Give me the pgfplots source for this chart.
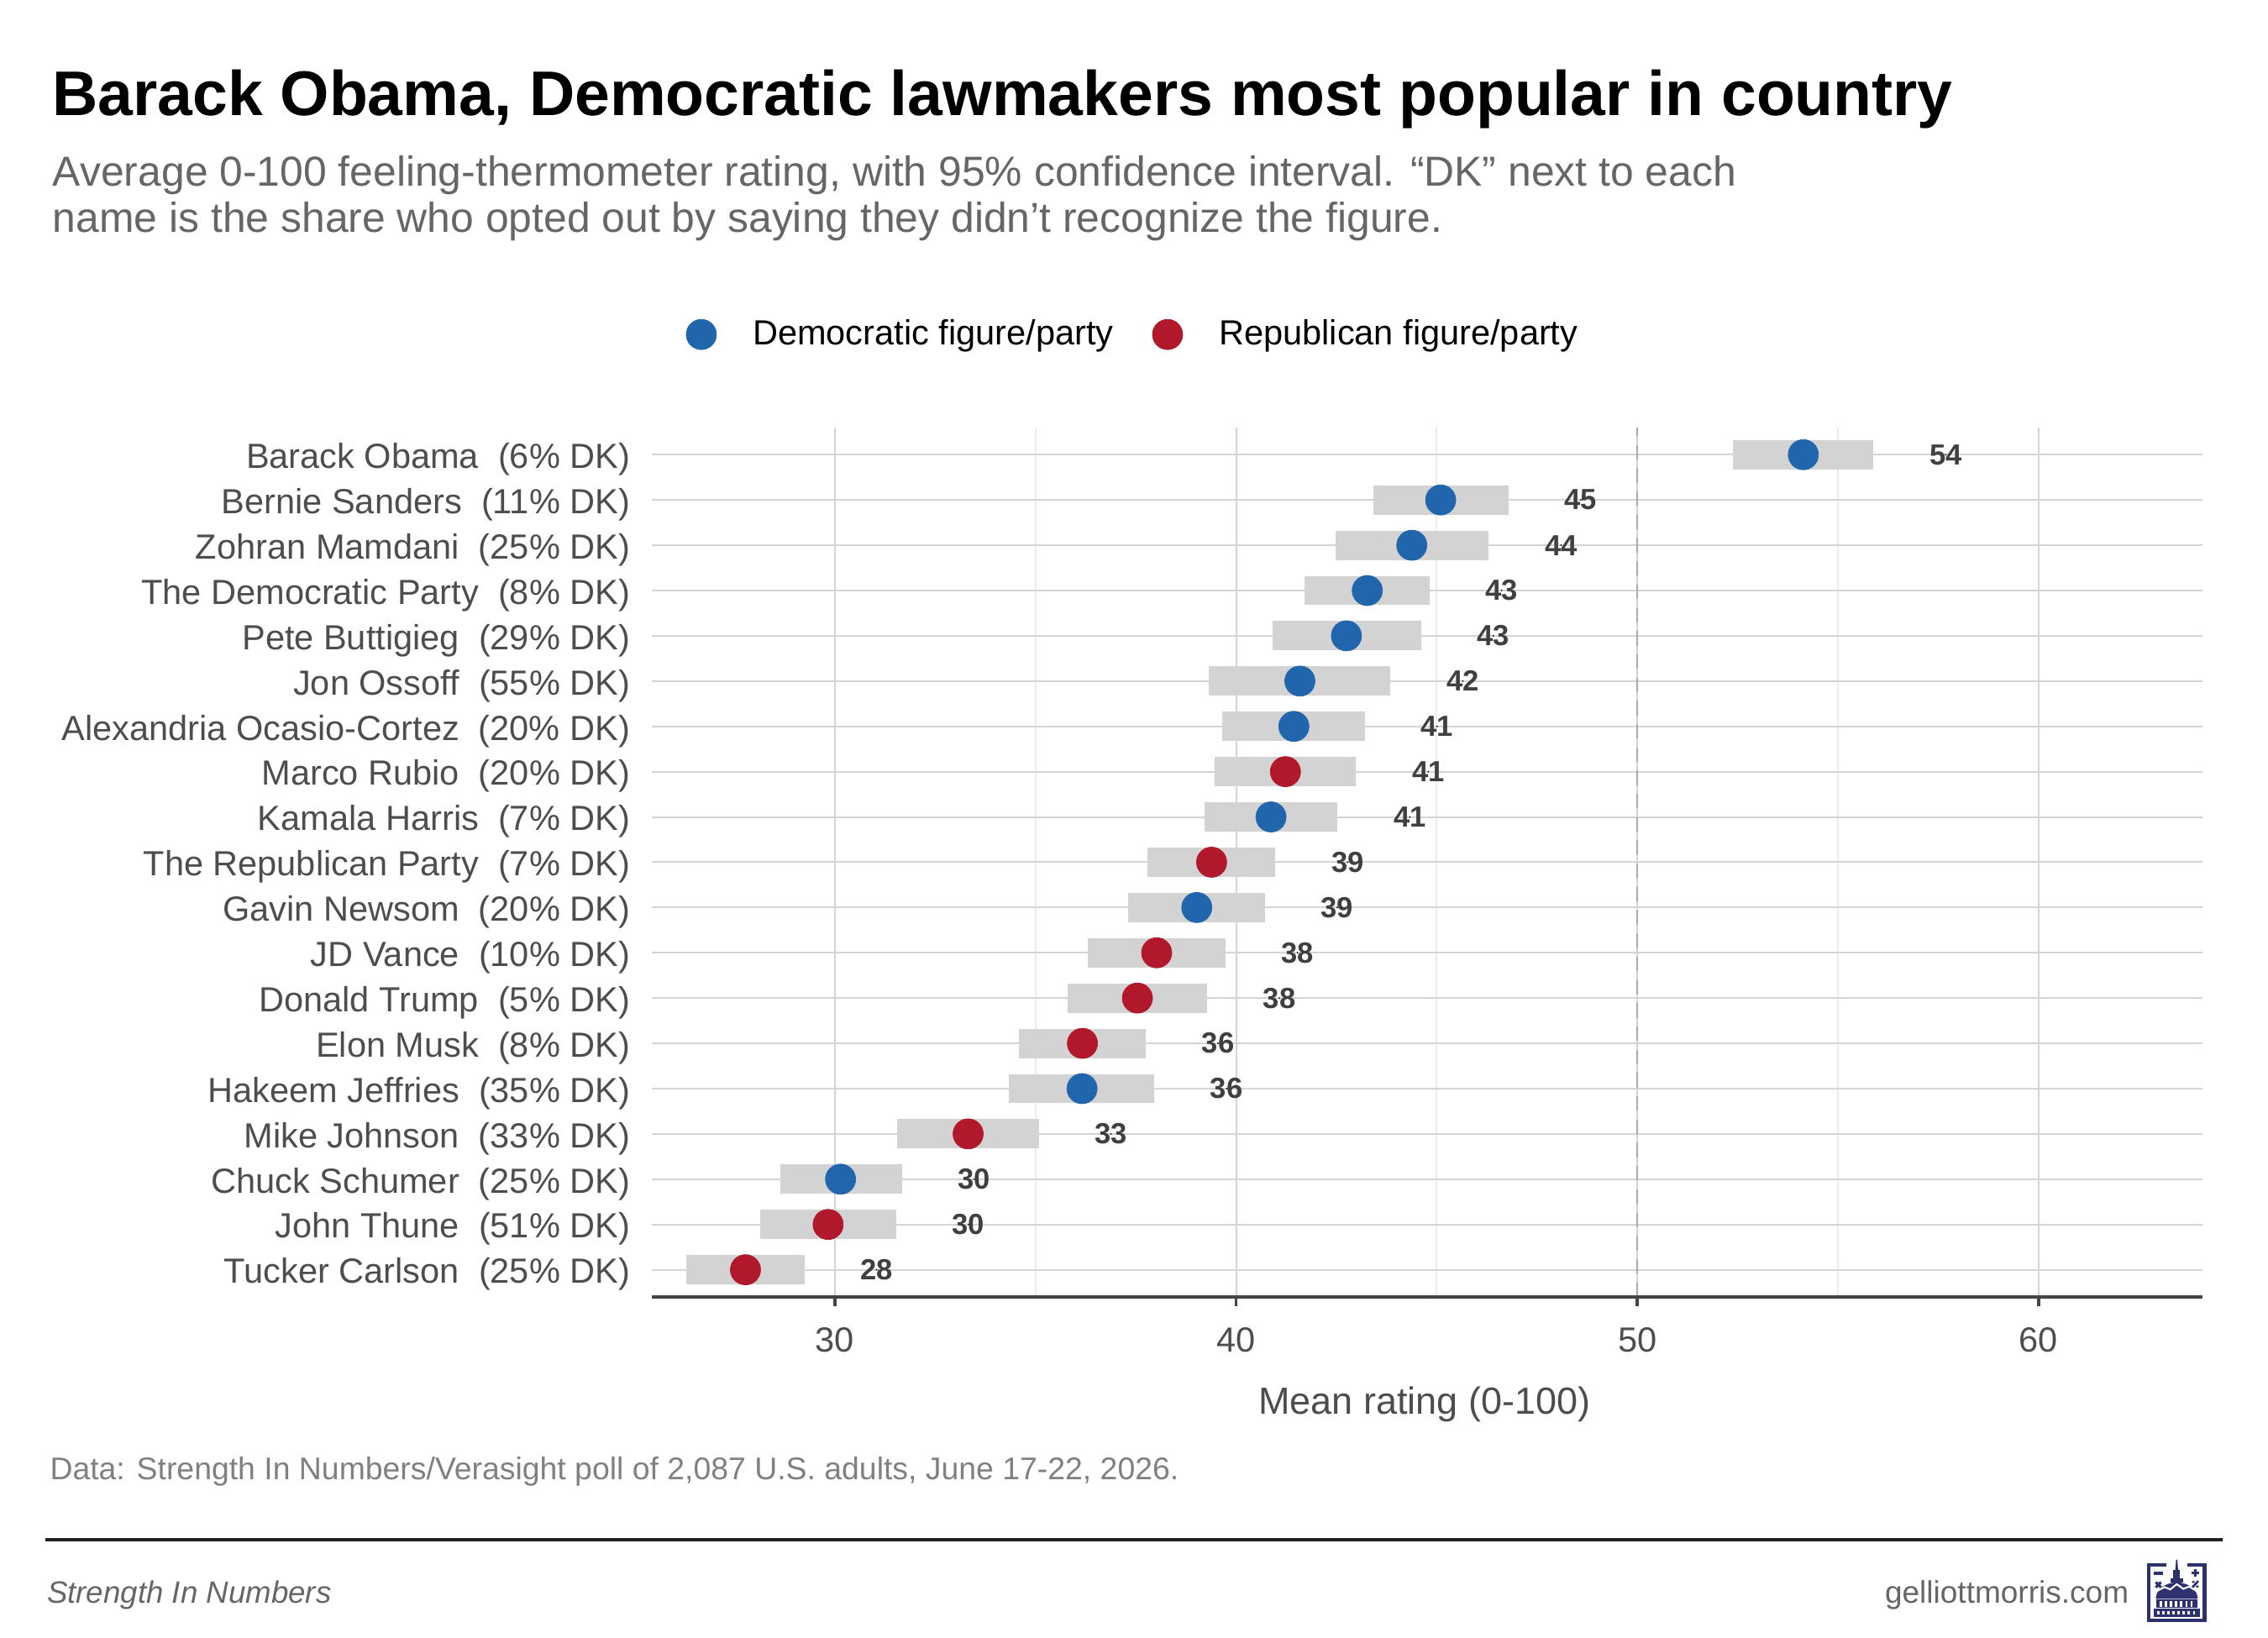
\documentclass[border=0pt]{standalone}
\usepackage{fontspec}
\setmainfont{Liberation Sans}
\usepackage{pgfplots}
\pgfplotsset{compat=1.18}
\usepackage{pgfplotstable}

\definecolor{demblue}{HTML}{2166AC}
\definecolor{repred}{HTML}{B2182B}
\definecolor{barcol}{HTML}{D3D3D3}
\definecolor{gridmaj}{HTML}{D4D4D4}
\definecolor{gridmin}{HTML}{EBEBEB}
\definecolor{axiscol}{HTML}{444444}
\definecolor{ticktext}{HTML}{4D4D4D}
\definecolor{subcol}{HTML}{666666}
\definecolor{capcol}{HTML}{808080}
\definecolor{labcol}{HTML}{3F3F3F}
\definecolor{dashcol}{HTML}{AAAAAA}
\definecolor{rulecol}{HTML}{222222}
\definecolor{logocol}{HTML}{2E3170}

% y: row (0 = bottom), mean, CI low, CI high, rounded label
\pgfplotstableread{
y mean lo hi lab
18 54.14 52.39 55.89 54
17 45.10 43.42 46.79 45
16 44.38 42.48 46.30 44
15 43.27 41.70 44.82 43
14 42.75 40.92 44.61 43
13 41.59 39.31 43.85 42
12 41.44 39.66 43.21 41
10 40.87 39.22 42.53 41
8 39.02 37.30 40.72 39
4 36.16 34.34 37.96 36
2 30.14 28.64 31.67 30
}\dem

\pgfplotstableread{
y mean lo hi lab
11 41.23 39.47 42.99 41
9 39.39 37.79 40.98 39
7 38.02 36.30 39.73 38
6 37.54 35.80 39.28 38
5 36.17 34.59 37.75 36
3 33.32 31.56 35.08 33
1 29.83 28.13 31.53 30
0 27.77 26.30 29.24 28
}\rep

\begin{document}
\begin{tikzpicture}
\path[use as bounding box] (0,0) rectangle (780pt,563.33pt);

\node[anchor=base west, inner sep=0pt, font=\fontsize{21.7}{26}\selectfont\bfseries] at (17.8pt,523.6pt) {Barack Obama, Democratic lawmakers most popular in country};
\node[anchor=base west, inner sep=0pt, text=subcol, font=\fontsize{14.4}{16}\selectfont] at (18pt,499.3pt) {Average 0-100 feeling-thermometer rating, with 95\% confidence interval. “DK” next to each};
\node[anchor=base west, inner sep=0pt, text=subcol, font=\fontsize{14.4}{16}\selectfont] at (18pt,483.4pt) {name is the share who opted out by saying they didn’t recognize the figure.};

\begin{axis}[
  at={(224.1pt,117.3pt)}, anchor=south west,
  scale only axis, width=533.5pt, height=299pt,
  xmin=25.43, xmax=64.1, ymin=-0.6, ymax=18.6,
  clip=false,
  axis line style={draw=none},
  xtick={30,40,50,60}, minor xtick={35,45,55},
  ytick={0,...,18},
  yticklabels={
    Tucker Carlson\ \ (25\% DK),
    John Thune\ \ (51\% DK),
    Chuck Schumer\ \ (25\% DK),
    Mike Johnson\ \ (33\% DK),
    Hakeem Jeffries\ \ (35\% DK),
    Elon Musk\ \ (8\% DK),
    Donald Trump\ \ (5\% DK),
    JD Vance\ \ (10\% DK),
    Gavin Newsom\ \ (20\% DK),
    The Republican Party\ \ (7\% DK),
    Kamala Harris\ \ (7\% DK),
    Marco Rubio\ \ (20\% DK),
    Alexandria Ocasio-Cortez\ \ (20\% DK),
    Jon Ossoff\ \ (55\% DK),
    Pete Buttigieg\ \ (29\% DK),
    The Democratic Party\ \ (8\% DK),
    Zohran Mamdani\ \ (25\% DK),
    Bernie Sanders\ \ (11\% DK),
    Barack Obama\ \ (6\% DK)},
  xmajorgrids, xminorgrids, ymajorgrids,
  major grid style={draw=gridmaj, line width=0.6pt},
  minor grid style={draw=gridmin, line width=0.5pt},
  tick align=outside,
  xtick pos=bottom, ytick pos=left,
  major tick length=3.2pt, minor tick length=0pt,
  xtick style={draw=axiscol, line width=1.1pt},
  ytick style={draw=none},
  minor tick style={draw=none},
  /pgf/number format/assume math mode=true,
  ticklabel style={font=\fontsize{12}{14}\selectfont, text=ticktext},
  xticklabel style={anchor=base, inner sep=0pt, yshift=-15.7pt},
  yticklabel style={anchor=base east, inner sep=0pt, xshift=-4.0pt, yshift=-4.7pt},
  xlabel={Mean rating (0-100)},
  xlabel style={at={(axis description cs:0.5,0)}, anchor=base, inner sep=0pt, xshift=-1pt, yshift=-40.2pt, font=\fontsize{13}{15}\selectfont, text=ticktext},
  legend columns=2,
  legend cell align=left,
  legend image code/.code={\draw[#1] plot coordinates {(0pt,0pt)};},
  legend style={at={(axis description cs:0.02231,1.107)}, anchor=west,
    draw=none, fill=none, inner sep=0pt, outer sep=0pt,
    font=\fontsize{12}{14}\selectfont,
    nodes={inner sep=0pt},
    /tikz/every odd column/.append style={column sep=12.5pt},
    /tikz/every even column/.append style={column sep=13.4pt}},
]
% confidence-interval bars
\addplot[forget plot, draw=none, mark=none,
  error bars/.cd, x dir=both, x explicit, error mark=none,
  error bar style={draw=barcol, line width=10.1pt}]
  table[x=mean, y=y, x error plus expr=\thisrow{hi}-\thisrow{mean}, x error minus expr=\thisrow{mean}-\thisrow{lo}] {\dem};
\addplot[forget plot, draw=none, mark=none,
  error bars/.cd, x dir=both, x explicit, error mark=none,
  error bar style={draw=barcol, line width=10.1pt}]
  table[x=mean, y=y, x error plus expr=\thisrow{hi}-\thisrow{mean}, x error minus expr=\thisrow{mean}-\thisrow{lo}] {\rep};
% reference line at 50
\addplot[forget plot, draw=dashcol, line width=0.8pt, dash pattern=on 5pt off 3pt] coordinates {(50,-0.6) (50,18.6)};
% points
\addplot[only marks, mark=*, mark size=5.2pt, draw=demblue, fill=demblue, mark options={line width=0.2pt}] table[x=mean, y=y] {\dem};
\addlegendentry{Democratic figure/party}
\addplot[only marks, mark=*, mark size=5.2pt, draw=repred, fill=repred, mark options={line width=0.2pt}] table[x=mean, y=y] {\rep};
\addlegendentry{Republican figure/party}
% value labels
\addplot[forget plot, only marks, mark=*, mark size=0.01pt, mark options={draw=none, fill=none},
  nodes near coords, point meta=explicit symbolic,
  nodes near coords style={anchor=center, inner sep=0pt, font=\fontsize{10}{12}\selectfont\bfseries, text=labcol}]
  table[x expr=\thisrow{hi}+1.8, y=y, meta=lab] {\dem};
\addplot[forget plot, only marks, mark=*, mark size=0.01pt, mark options={draw=none, fill=none},
  nodes near coords, point meta=explicit symbolic,
  nodes near coords style={anchor=center, inner sep=0pt, font=\fontsize{10}{12}\selectfont\bfseries, text=labcol}]
  table[x expr=\thisrow{hi}+1.8, y=y, meta=lab] {\rep};
% bottom axis line
\draw[axiscol, line width=1.2pt] (rel axis cs:0,0) -- (rel axis cs:1,0);
\end{axis}

\node[anchor=base west, inner sep=0pt, text=capcol, font=\fontsize{10.8}{12}\selectfont] at (17pt,54.4pt) {Data: Strength In Numbers/Verasight poll of 2,087 U.S. adults, June 17-22, 2026.};
\draw[rulecol, line width=1.35pt] (15.5pt,33.8pt) -- (764.3pt,33.8pt);
\node[anchor=base west, inner sep=0pt, text=subcol, font=\fontsize{10.6}{12}\selectfont\itshape] at (16pt,11.85pt) {Strength In Numbers};
\node[anchor=base east, inner sep=0pt, text=subcol, font=\fontsize{10.7}{12}\selectfont] at (732.3pt,12.1pt) {gelliottmorris.com};

% logo
\begin{scope}[shift={(738.4pt,25.8pt)}, x=1pt, y=-1pt]
  \draw[logocol, line width=1.2pt] (6.5,0.6) -- (0.6,0.6) -- (0.6,19.7) -- (19.8,19.7) -- (19.8,0.6) -- (13.8,0.6);
  \fill[logocol] (10.0,-1.2) -- (10.4,-1.2) -- (10.7,2.5) -- (9.7,2.5) -- cycle;
  \fill[logocol] (9.0,2.5) rectangle (11.4,5.5);
  \fill[logocol] (8.1,5.2) rectangle (12.3,6.8);
  \fill[logocol] (3.0,12.3) arc[start angle=180, end angle=360, x radius=7.2, y radius=5.6] -- cycle;
  \draw[white, line width=0.6pt] (3.5,9.6) -- (6,8.3) -- (8,9.1) -- (10.2,7.3) -- (12.5,8.9) -- (14.5,8.1) -- (17,9.6);
  \fill[logocol] (3.2,12.6) rectangle (17.2,15.4);
  \foreach \i in {0,...,6} {\fill[white] (4.4+\i*1.75,13.0) rectangle (5.2+\i*1.75,15.0);}
  \fill[logocol] (2.2,15.8) rectangle (18.2,18.6);
  \foreach \i in {0,...,7} {\fill[white] (3.5+\i*1.75,16.6) rectangle (4.2+\i*1.75,17.8);}
  \draw[logocol, line width=1.0pt] (2.4,3.6) -- (5.4,3.6);
  \draw[logocol, line width=1.0pt] (15.3,3.4) -- (17.9,3.4) (16.6,2.1) -- (16.6,4.7);
  \draw[logocol, line width=0.9pt] (3.0,6.6) -- (4.8,8.4) (3.0,8.4) -- (4.8,6.6);
  \draw[logocol, line width=0.8pt] (15.6,8.4) -- (17.6,6.2);
  \fill[logocol] (15.9,6.5) circle (0.5) (17.3,8.1) circle (0.5);
\end{scope}
\end{tikzpicture}
\end{document}
